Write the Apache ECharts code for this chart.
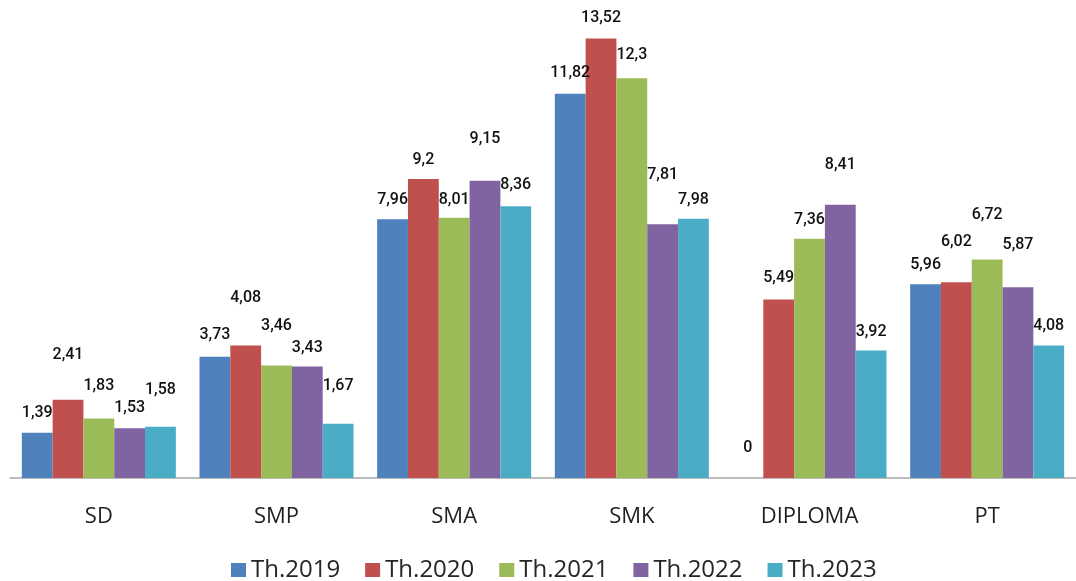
<!DOCTYPE html>
<html>
<head>
<meta charset="utf-8">
<script src="https://cdn.jsdelivr.net/npm/echarts@6/dist/echarts.min.js"></script>
<style>
  html, body { margin: 0; padding: 0; background: #ffffff; }
  #chart { width: 1076px; height: 581px; }
</style>
</head>
<body>
<div id="chart"></div>
<script>
// Education levels and yearly values (percent)
const categories = ['SD', 'SMP', 'SMA', 'SMK', 'DIPLOMA', 'PT'];
const seriesNames = ['Th.2019', 'Th.2020', 'Th.2021', 'Th.2022', 'Th.2023'];
const th2019 = [1.39, 3.73, 7.96, 11.82, 0, 5.96];
const th2020 = [2.41, 4.08, 9.2, 13.52, 5.49, 6.02];
const th2021 = [1.83, 3.46, 8.01, 12.3, 7.36, 6.72];
const th2022 = [1.53, 3.43, 9.15, 7.81, 8.41, 5.87];
const th2023 = [1.58, 1.67, 8.36, 7.98, 3.92, 4.08];

const seriesValues = [th2019, th2020, th2021, th2022, th2023];
const colors = ['#4F81BD', '#C0504D', '#9BBB59', '#8064A2', '#4BACC6'];

// Extra upward shift (px) of individual value labels so neighbours don't collide
const labelLift = [
  [1, 3, 0, 2, 11, 0],
  [26, 28, 0, 2, 3, 21],
  [14, 21, -1, 4, 0, 26],
  [1, 0, 23, 30, 21, 23],
  [18, 19, 2, 0, 0, 0]
];

const fmt = v => String(v).replace('.', ',');

const chart = echarts.init(document.getElementById('chart'), null, { renderer: 'canvas' });

const series = seriesNames.map((name, i) => ({
  name: name,
  type: 'bar',
  barWidth: 30.8,
  barGap: '0%',
  itemStyle: { color: colors[i] },
  label: {
    show: true,
    position: 'top',
    distance: 11,
    fontFamily: 'Roboto, "Liberation Sans", sans-serif',
    fontWeight: 500,
    fontSize: 16,
    color: '#111111',
    formatter: p => fmt(p.value)
  },
  data: seriesValues[i].map((v, j) => ({
    value: v,
    label: { offset: [0, -labelLift[i][j]] }
  }))
}));

chart.setOption({
  animation: false,
  backgroundColor: '#ffffff',
  grid: { left: 10, top: 23, width: 1068, height: 455, containLabel: false },
  legend: {
    data: seriesNames,
    left: 231,
    top: 558,
    padding: 0,
    itemWidth: 15,
    itemHeight: 14,
    itemGap: 25,
    icon: 'rect',
    textStyle: { fontFamily: '"Open Sans", sans-serif', fontSize: 24, color: '#262626' }
  },
  xAxis: {
    type: 'category',
    data: categories,
    axisLine: { show: true, lineStyle: { color: '#a6a6a6', width: 1.5 } },
    axisTick: { show: false },
    axisLabel: {
      margin: 28,
      fontFamily: '"Open Sans", sans-serif',
      fontSize: 22,
      color: '#1f1f1f'
    }
  },
  yAxis: {
    type: 'value',
    min: 0,
    max: 14,
    show: false,
    splitLine: { show: false }
  },
  series: series
});
</script>
</body>
</html>
